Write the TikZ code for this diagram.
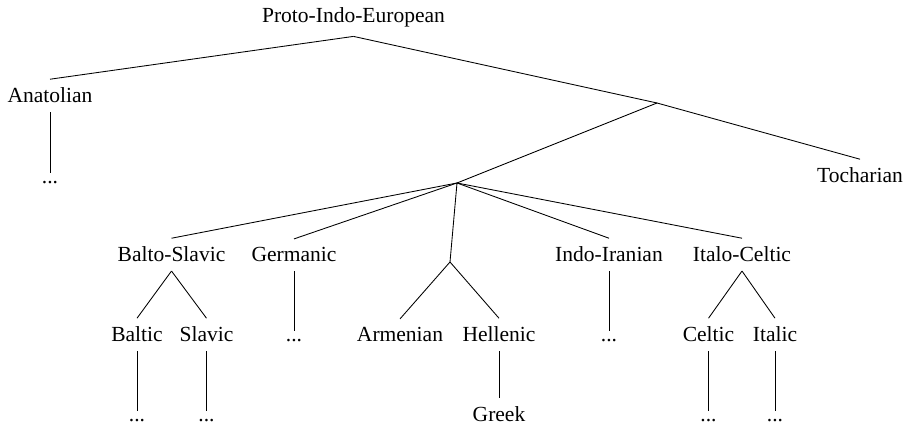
\documentclass[tikz,border=0pt]{standalone}
\usepackage{fontspec}
\setmainfont{Liberation Serif}

\begin{document}
\begin{tikzpicture}[x=0.4645pt, y=-0.4645pt,
  lang/.style={anchor=base, inner sep=3.9pt}]
  \useasboundingbox (0,0) rectangle (907,426);
  % top levels
  \node[lang] (pie) at (353.5,23) {Proto-Indo-European};
  \node[lang] (ana) at (50,103) {Anatolian};
  \coordinate (b1) at (657,103);
  \node[lang] (anad) at (50,184) {...};
  \coordinate (b2) at (457,183);
  \node[lang] (toch) at (860,183) {Tocharian};
  % branches
  \node[lang] (bsl) at (171.5,262) {Balto-Slavic};
  \node[lang] (ger) at (294,262) {Germanic};
  \coordinate (b3) at (450,262);
  \node[lang] (iir) at (609,262) {Indo-Iranian};
  \node[lang] (itc) at (742,262) {Italo-Celtic};
  \node[lang] (balt) at (137,342) {Baltic};
  \node[lang] (slav) at (206.5,342) {Slavic};
  \node[lang] (gerd) at (294,342) {...};
  \node[lang] (arm) at (400,342) {Armenian};
  \node[lang] (hel) at (499,342) {Hellenic};
  \node[lang] (iird) at (609,342) {...};
  \node[lang] (cel) at (708.5,342) {Celtic};
  \node[lang] (ita) at (775,342) {Italic};
  % leaves
  \node[lang] (baltd) at (137,422) {...};
  \node[lang] (slavd) at (206.5,422) {...};
  \node[lang] (grk) at (499,422) {Greek};
  \node[lang] (celd) at (708.5,422) {...};
  \node[lang] (itad) at (775,422) {...};

  \draw (pie.south) -- (ana.north);
  \draw (pie.south) -- (b1);
  \draw (b1) -- (b2);
  \draw (b1) -- (toch.north);
  \draw (b2) -- (bsl.north);
  \draw (b2) -- (ger.north);
  \draw (b2) -- (b3);
  \draw (b2) -- (iir.north);
  \draw (b2) -- (itc.north);
  \draw (b3) -- (arm.north);
  \draw (b3) -- (hel.north);
  \foreach \p/\c in {bsl/balt, bsl/slav, itc/cel, itc/ita, ana/anad,
    ger/gerd, iir/iird, balt/baltd, slav/slavd, hel/grk, cel/celd, ita/itad}
    \draw (\p.south) -- (\c.north);
\end{tikzpicture}
\end{document}
